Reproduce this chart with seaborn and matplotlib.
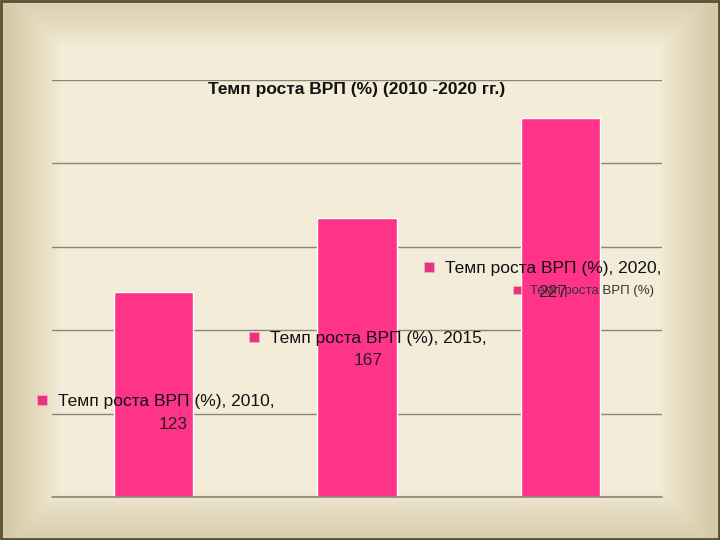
import numpy as np
import pandas as pd
import matplotlib
matplotlib.use("Agg")
import matplotlib.pyplot as plt
import seaborn as sns

# data
years = ["2010", "2015", "2020"]
growth = [123, 167, 227]
series_name = "Темп роста ВРП (%)"
title = "Темп роста ВРП (%) (2010 -2020 гг.)"

# label placement (data coords)
label_x = [-0.47, 0.572, 1.433]
label_y = [57.5, 95, 137]
num_x = [0.095, 1.054, 1.964]
num_y = [43.2, 82.1, 122.9]
square_dx = 0.079

df = pd.DataFrame({"year": years, "growth": growth})

sns.set_theme(style="white")
plt.rcParams["font.family"] = ["Liberation Sans", "DejaVu Sans"]

fig = plt.figure(figsize=(7.2, 5.4), dpi=100)

# beige frame background with soft bevel
bg = fig.add_axes([0, 0, 1, 1], zorder=-10)
W, H = 720, 540
xx, yy = np.meshgrid(np.arange(W), np.arange(H))
dx = np.maximum.reduce([60 - xx, xx - 660, np.zeros_like(xx)])
dy = np.maximum.reduce([45 - yy, yy - 490, np.zeros_like(yy)])
t = np.clip(np.maximum(dx, dy) / 55.0, 0, 1) ** 0.8
inner = np.array([243, 236, 216]) / 255
edge = np.array([213, 201, 166]) / 255
img = inner[None, None, :] * (1 - t[..., None]) + edge[None, None, :] * t[..., None]
bg.imshow(img, extent=[0, W, H, 0], aspect="auto")
bg.add_patch(plt.Rectangle((1, 1), W - 2, H - 2, fill=False, ec="#5a4e34", lw=2))
bg.set_xlim(0, W)
bg.set_ylim(H, 0)
bg.axis("off")

ax = fig.add_axes([52 / 720, 43 / 540, 610 / 720, 417 / 540])
ax.set_facecolor("none")
sns.barplot(data=df, x="year", y="growth", color="#ff3388", saturation=1,
            width=0.39, ax=ax, zorder=2)
ax.set_ylim(0, 250)
ax.set_yticks(range(0, 251, 50))
ax.yaxis.grid(True, color="#8c8574", lw=1)
ax.axhline(0, color="#8c8574", lw=1.2, clip_on=False, zorder=3)
ax.set_axisbelow(True)
ax.tick_params(left=False, bottom=False, labelleft=False, labelbottom=False)
ax.set_xlabel("")
ax.set_ylabel("")
for s in ax.spines.values():
    s.set_visible(False)

ax.text(0.5, 0.978, title, transform=ax.transAxes, ha="center", va="center",
        fontsize=12.5, fontweight="bold", color="#111111", zorder=5)

for i in range(len(years)):
    ax.plot(label_x[i] - square_dx, label_y[i] + 0.8, marker="s", ms=6.5,
            color="#e8347f", mec="#f5a8c6", mew=0.6, zorder=4, clip_on=False)
    ax.text(label_x[i], label_y[i], f"{series_name}, {years[i]},",
            ha="left", va="center", fontsize=12.5, color="#111111", zorder=5)
    ax.text(num_x[i], num_y[i], str(growth[i]), ha="center", va="center",
            fontsize=12.5, color="#2e1a24", zorder=5)

# small series legend
ax.plot(1.787, 124.3, marker="s", ms=5.5, color="#e8347f", mec="#f5a8c6",
        mew=0.6, zorder=4)
ax.text(1.851, 123.5, series_name, ha="left", va="center", fontsize=9.5,
        color="#333333", zorder=5)

ax.set_xlim(-0.5, 2.5)

fig.savefig("out.png", dpi=100)
